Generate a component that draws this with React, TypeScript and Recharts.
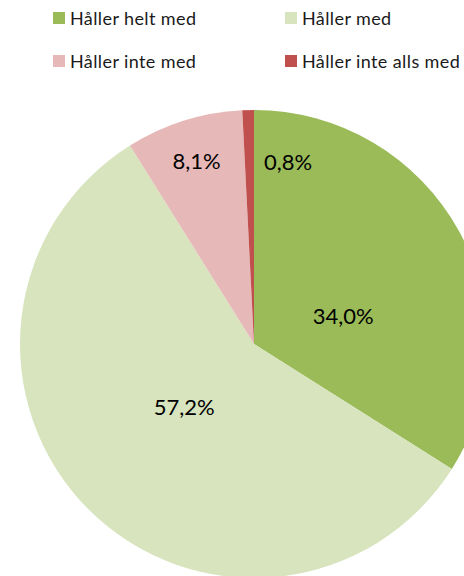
import { PieChart, Pie, Cell } from "recharts";

const categories = ["Håller helt med", "Håller med", "Håller inte med", "Håller inte alls med"];
const shares = [34.0, 57.2, 8.1, 0.8];
const colors = ["#9BBB59", "#D7E4BD", "#E6B9B8", "#C0504D"];

const data = categories.map((name, i) => ({ name, value: shares[i] }));

// where each label sits: fraction of the radius and a small angle nudge (degrees)
const labelPlacement = [
  { f: 0.4, da: -11 },
  { f: 0.4, da: -3 },
  { f: 0.82, da: 0 },
  { f: 0.795, da: -12 },
];

const RAD = Math.PI / 180;

function renderLabel(props: any) {
  const { cx, cy, midAngle, outerRadius, index, value } = props;
  const p = labelPlacement[index];
  const a = (midAngle + p.da) * RAD;
  const r = outerRadius * p.f;
  const x = cx + r * Math.cos(-a);
  const y = cy + r * Math.sin(-a);
  return (
    <text
      x={x}
      y={y}
      fill="#000"
      fontSize={22}
      fontFamily="Lato, sans-serif"
      textAnchor="middle"
      dominantBaseline="central"
    >
      {value.toFixed(1).replace(".", ",")}%
    </text>
  );
}

function LegendGrid() {
  return (
    <div
      style={{
        position: "absolute",
        left: 53,
        top: 9,
        display: "grid",
        gridTemplateColumns: "232px 200px",
        rowGap: 25,
        fontFamily: "Lato, sans-serif",
        fontSize: 18,
        letterSpacing: 0.4,
        color: "#1a1a1a",
      }}
    >
      {categories.map((name, i) => (
        <div key={name} style={{ display: "flex", alignItems: "center", height: 18 }}>
          <span
            style={{
              width: 12,
              height: 12,
              background: colors[i],
              display: "inline-block",
              marginRight: 5,
            }}
          />
          <span>{name}</span>
        </div>
      ))}
    </div>
  );
}

export default function App() {
  return (
    <div style={{ position: "absolute", left: 0, top: 0, width: 464, height: 576, background: "#fff" }}>
      <PieChart width={464} height={576} margin={{ top: 0, right: 0, bottom: 0, left: 0 }}>
        <Pie
          data={data}
          dataKey="value"
          nameKey="name"
          cx={254}
          cy={344}
          outerRadius={234}
          startAngle={90}
          endAngle={-270}
          stroke="none"
          label={renderLabel}
          labelLine={false}
          isAnimationActive={false}
        >
          {data.map((d, i) => (
            <Cell key={d.name} fill={colors[i]} />
          ))}
        </Pie>
      </PieChart>
      <LegendGrid />
    </div>
  );
}
